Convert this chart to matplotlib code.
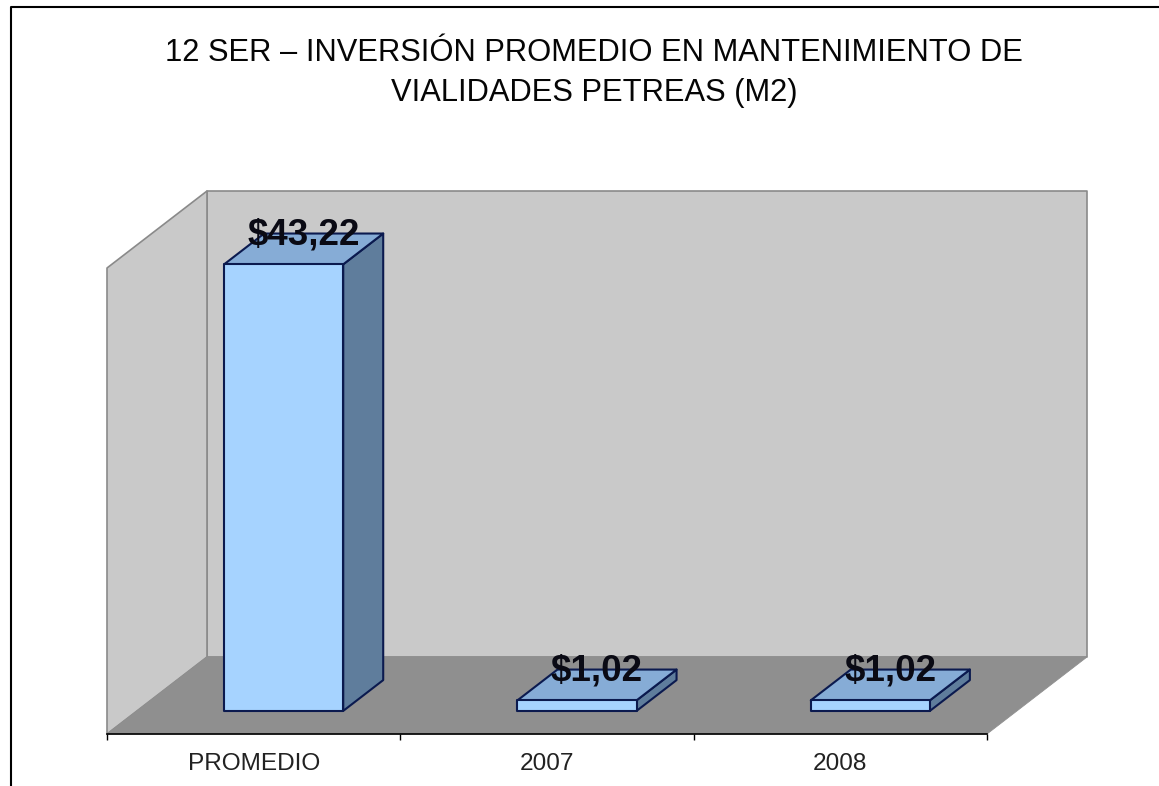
import matplotlib
matplotlib.use('Agg')
import matplotlib.pyplot as plt
from matplotlib.lines import Line2D
from matplotlib.patches import Polygon

categories = ['PROMEDIO', '2007', '2008']
values = [43.22, 1.02, 1.02]
value_labels = ['$43,22', '$1,02', '$1,02']
title = '12 SER – INVERSIÓN PROMEDIO EN MANTENIMIENTO DE\nVIALIDADES PETREAS (M2)'

W, H = 1159, 786
plt.rcParams['font.family'] = ['Liberation Sans', 'DejaVu Sans']

fig = plt.figure(figsize=(W / 100, H / 100), dpi=100, facecolor='white')
# axes = front plane of the 3d box
ax = fig.add_axes([107 / W, 1 - 734 / H, 880 / W, 466 / H])
ymax = 45.1
ax.set_xlim(0, len(categories))
ax.set_ylim(0, ymax)
ax.patch.set_visible(False)

# how far one full unit of depth moves in data units
depth_x = 100 / (880 / len(categories))
depth_y = 77 / (466 / ymax)


def proj(x, y, d):
    return (x + d * depth_x, y + d * depth_y)


def face(points, color, edge, lw=1.0, z=1):
    ax.add_patch(Polygon([proj(*p) for p in points], closed=True, facecolor=color,
                         edgecolor=edge, linewidth=lw, zorder=z, clip_on=False,
                         joinstyle='round'))


n = len(categories)
# walls and floor
face([(0, 0, 1), (n, 0, 1), (n, ymax, 1), (0, ymax, 1)], '#c9c9c9', '#8a8a8a', 1.2)
face([(0, 0, 0), (0, 0, 1), (0, ymax, 1), (0, ymax, 0)], '#c9c9c9', '#8a8a8a', 1.2)
face([(0, 0, 0), (n, 0, 0), (n, 0, 1), (0, 0, 1)], '#8f8f8f', '#8f8f8f', 0.6)

bar_w = 0.406
d0, d1 = 0.3, 0.7
edge = '#0b1a4f'
for i, v in enumerate(values):
    x0 = i + 0.5 - bar_w / 2
    x1 = x0 + bar_w
    face([(x1, 0, d0), (x1, 0, d1), (x1, v, d1), (x1, v, d0)], '#5f7d9c', edge, 1.5, 3)
    face([(x0, v, d0), (x1, v, d0), (x1, v, d1), (x0, v, d1)], '#86acd6', edge, 1.5, 3)
    face([(x0, 0, d0), (x1, 0, d0), (x1, v, d0), (x0, v, d0)], '#a6d3ff', edge, 1.5, 4)
    ax.annotate(value_labels[i], proj(i + 0.5, v, 0.5), xytext=(0, 14),
                textcoords='offset pixels', ha='center', va='center', fontsize=26.5,
                fontweight='bold', color='#0a0a14', zorder=6, annotation_clip=False)

for s in ['top', 'left', 'right']:
    ax.spines[s].set_visible(False)
ax.spines['bottom'].set_color('black')
ax.spines['bottom'].set_linewidth(1.2)
ax.set_yticks([])
ax.set_xticks(range(n + 1))
ax.set_xticklabels([])
ax.tick_params(axis='x', which='major', length=4.5, width=1.0, color='black')
ax.set_xticks([i + 0.5 for i in range(n)], minor=True)
ax.set_xticklabels(categories, minor=True, fontsize=17.6, color='#222222')
ax.tick_params(axis='x', which='minor', length=0, pad=14)

fig.text(594 / W, 1 - 72.75 / H, title, ha='center', va='center', fontsize=22.2,
         color='#050505', linespacing=1.44)

# frame of the slide
fig.add_artist(Line2D([11 / W, 11 / W, 1], [0, 1 - 7 / H, 1 - 7 / H], color='black', lw=1.5))

fig.savefig('out.png', dpi=100)
